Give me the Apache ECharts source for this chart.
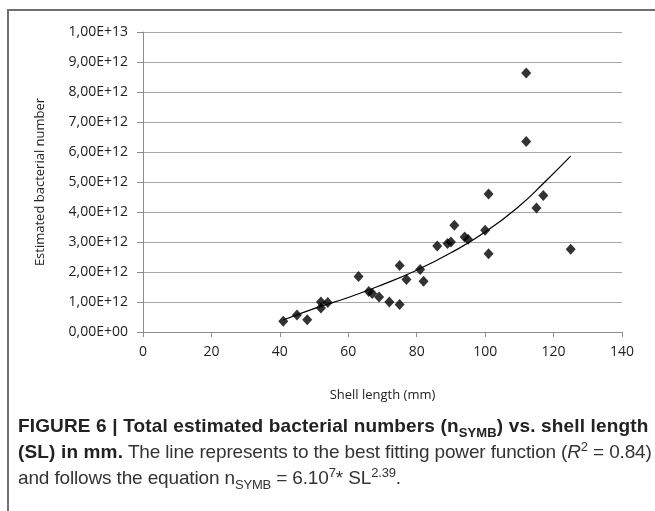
<!DOCTYPE html>
<html>
<head>
<meta charset="utf-8">
<script src="https://cdn.jsdelivr.net/npm/echarts@6/dist/echarts.min.js"></script>
<style>
  html, body { margin: 0; padding: 0; background: #fff; }
  #wrap { position: relative; width: 655px; height: 511px; overflow: hidden; }
  #frame { position: absolute; left: 7px; top: 9px; width: 720px; height: 600px; border: 2px solid #6f6f6f; box-sizing: border-box; }
  #chart { position: absolute; left: 0; top: 0; width: 655px; height: 511px; }
  #caption { position: absolute; left: 18px; top: 413px; width: 640px; font-family: "Liberation Sans", Arial, sans-serif; font-size: 19px; line-height: 26px; color: #333; white-space: nowrap; letter-spacing: -0.15px; }
  #caption b { font-weight: 700; color: #222; letter-spacing: 0.15px; }
  #caption sub, #caption sup { font-size: 13px; line-height: 0; }
</style>
</head>
<body>
<div id="wrap">
  <div id="frame"></div>
  <div id="chart"></div>
  <div id="caption">
    <b>FIGURE 6 | Total estimated bacterial numbers (n<sub>SYMB</sub>) vs. shell length</b><br>
    <b>(SL) in mm.</b> The line represents to the best fitting power function (<i>R</i><sup>2</sup> = 0.84)<br>
    and follows the equation n<sub>SYMB</sub> = 6.10<sup>7</sup>* SL<sup>2.39</sup>.
  </div>
</div>
<script>
// measured points
var shellLength = [41, 45, 48, 52, 52, 54, 63, 66, 67, 69, 72, 75, 75, 77, 81, 82, 86, 89, 90, 91, 94, 95, 100, 101, 101, 112, 112, 115, 117, 125];
var bacteria = [0.36e12, 0.57e12, 0.41e12, 1.0e12, 0.8e12, 0.98e12, 1.85e12, 1.35e12, 1.28e12, 1.17e12, 1.0e12, 0.92e12, 2.22e12, 1.75e12, 2.08e12, 1.69e12, 2.87e12, 2.95e12, 3.0e12, 3.56e12, 3.17e12, 3.09e12, 3.39e12, 4.6e12, 2.61e12, 8.63e12, 6.35e12, 4.13e12, 4.55e12, 2.76e12];

// power trendline
var fitX = [41, 50, 60, 70, 80, 90, 100, 110, 117, 125];
var fitY = [0.40e12, 0.78e12, 1.15e12, 1.58e12, 2.06e12, 2.64e12, 3.33e12, 4.2e12, 4.95e12, 5.86e12];

var yTickLabels = ['0,00E+00', '1,00E+12', '2,00E+12', '3,00E+12', '4,00E+12', '5,00E+12', '6,00E+12', '7,00E+12', '8,00E+12', '9,00E+12', '1,00E+13'];

var chart = echarts.init(document.getElementById('chart'), null, { renderer: 'canvas' });

var font = '"Open Sans", "Noto Sans", sans-serif';

chart.setOption({
  animation: false,
  grid: { left: 143, right: 33, top: 32, bottom: 179, containLabel: false },
  xAxis: {
    type: 'value',
    min: 0, max: 140, interval: 20,
    name: 'Shell length (mm)',
    nameLocation: 'middle',
    nameGap: 57,
    nameTextStyle: { fontFamily: font, fontSize: 13, color: '#222' },
    axisLine: { onZero: false, lineStyle: { color: '#8c8c8c', width: 1 } },
    axisTick: { show: true, length: 5, lineStyle: { color: '#8c8c8c' } },
    axisLabel: { fontFamily: font, fontSize: 14, color: '#222', margin: 13 },
    splitLine: { show: false }
  },
  yAxis: {
    type: 'value',
    min: 0, max: 1e13, interval: 1e12,
    name: 'Estimated bacterial number',
    nameLocation: 'middle',
    nameGap: 96,
    nameTextStyle: { fontFamily: font, fontSize: 13, color: '#222' },
    axisLine: { show: true, lineStyle: { color: '#8c8c8c', width: 1 } },
    axisTick: { show: true, length: 6, lineStyle: { color: '#8c8c8c' } },
    axisLabel: {
      fontFamily: font, fontSize: 14, color: '#222', margin: 15,
      formatter: function (v) { return yTickLabels[Math.round(v / 1e12)]; }
    },
    splitLine: { show: true, lineStyle: { color: '#a6a6a6', width: 1 } }
  },
  series: [
    {
      type: 'line',
      data: fitX.map(function (x, i) { return [x, fitY[i]]; }),
      smooth: true,
      showSymbol: false,
      lineStyle: { color: '#000', width: 1.2 },
      z: 3
    },
    {
      type: 'scatter',
      data: shellLength.map(function (x, i) { return [x, bacteria[i]]; }),
      symbol: 'diamond',
      symbolSize: [10, 11],
      itemStyle: { color: '#000' },
      z: 4
    }
  ]
});
</script>
</body>
</html>
